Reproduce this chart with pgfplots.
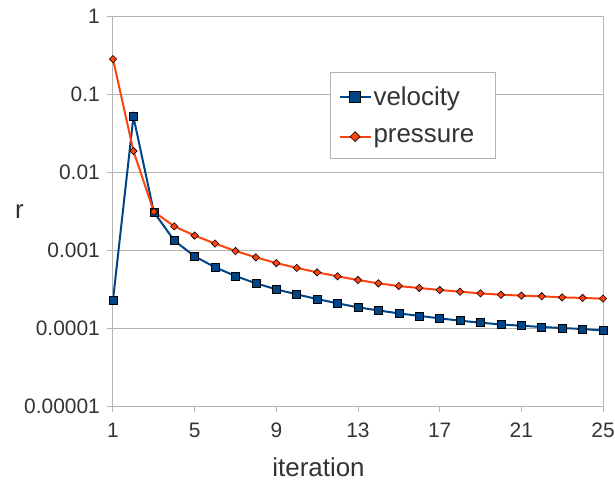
\documentclass[border=0pt]{standalone}
\usepackage{fontspec}
\setmainfont{Liberation Sans}
\usepackage{pgfplots}
\pgfplotsset{compat=1.18}
\definecolor{axgray}{HTML}{B3B3B3}
\definecolor{txt}{HTML}{333333}
\definecolor{vel}{HTML}{004586}
\definecolor{pres}{HTML}{FF420E}
\begin{document}
\begin{tikzpicture}
\useasboundingbox (-113bp,-75bp) rectangle (502bp,406bp);
\begin{axis}[
  at={(0,0)}, anchor=south west,
  scale only axis, width=490bp, height=390bp,
  ymode=log, xmin=1, xmax=25, ymin=1e-5, ymax=1,
  xtick={1,5,9,13,17,21,25},
  ytick={1e-5,1e-4,1e-3,1e-2,1e-1,1},
  yticklabels={0.00001,0.0001,0.001,0.01,0.1,1},
  yminorticks=false, xminorticks=false,
  ymajorgrids, grid style={axgray, line width=1bp},
  axis line style={axgray, line width=1bp},
  tick style={axgray, line width=1bp},
  tick align=outside, major tick length=6bp,
  tick pos=left,
  /pgf/number format/assume math mode=true,
  ticklabel style={font=\fontsize{21}{25}\selectfont, text=txt, inner sep=0pt},
  xticklabel style={anchor=north, yshift=-11bp},
  yticklabel style={anchor=east, xshift=-7bp},
  xlabel={iteration}, ylabel={r},
  label style={font=\fontsize{26}{30}\selectfont, text=txt, inner sep=0pt},
  xlabel style={at={(axis description cs:0,0)}, anchor=base, xshift=205.5bp, yshift=-70bp},
  ylabel style={at={(axis description cs:0,0)}, rotate=-90, anchor=base west, xshift=-98bp, yshift=188bp},
  legend style={at={(axis description cs:0.443,0.856)}, anchor=north west,
    draw=axgray, line width=1bp, fill=white, text=txt,
    font=\fontsize{26}{30}\selectfont, inner xsep=8bp, inner ysep=12bp,
    row sep=18bp,
    /tikz/every even column/.append style={column sep=4bp}},
  legend cell align=left,
  legend image code/.code={\draw[mark repeat=2,mark phase=2,#1,every mark/.append style={scale=1.35}] plot coordinates {(0bp,0bp)(15.5bp,0bp)(31bp,0bp)};},
]
\addplot[vel, line width=2bp, mark=square*, mark size=4bp,
  mark options={fill=vel, draw=black, line width=0.6bp}] coordinates {
(1,2.29e-4) (2,0.0512) (3,0.00307) (4,0.00132) (5,8.3e-4) (6,6.0e-4)
(7,4.64e-4) (8,3.74e-4) (9,3.13e-4) (10,2.70e-4) (11,2.35e-4) (12,2.07e-4)
(13,1.84e-4) (14,1.68e-4) (15,1.54e-4) (16,1.43e-4) (17,1.33e-4) (18,1.24e-4)
(19,1.17e-4) (20,1.11e-4) (21,1.07e-4) (22,1.03e-4) (23,1.0e-4) (24,9.7e-5) (25,9.3e-5)
};
\addlegendentry{\makebox[112bp][l]{velocity}}
\addplot[pres, line width=2bp, mark=square*, mark size=2.6bp,
  mark options={fill=pres, draw=black, line width=0.6bp, rotate=45}] coordinates {
(1,0.28) (2,0.0186) (3,0.0031) (4,0.00201) (5,0.00153) (6,0.00121)
(7,9.7e-4) (8,8.05e-4) (9,6.8e-4) (10,5.9e-4) (11,5.17e-4) (12,4.6e-4)
(13,4.12e-4) (14,3.74e-4) (15,3.45e-4) (16,3.26e-4) (17,3.07e-4) (18,2.92e-4)
(19,2.78e-4) (20,2.67e-4) (21,2.6e-4) (22,2.55e-4) (23,2.47e-4) (24,2.43e-4) (25,2.38e-4)
};
\addlegendentry{\makebox[112bp][l]{pressure}}
\end{axis}
\end{tikzpicture}
\end{document}
